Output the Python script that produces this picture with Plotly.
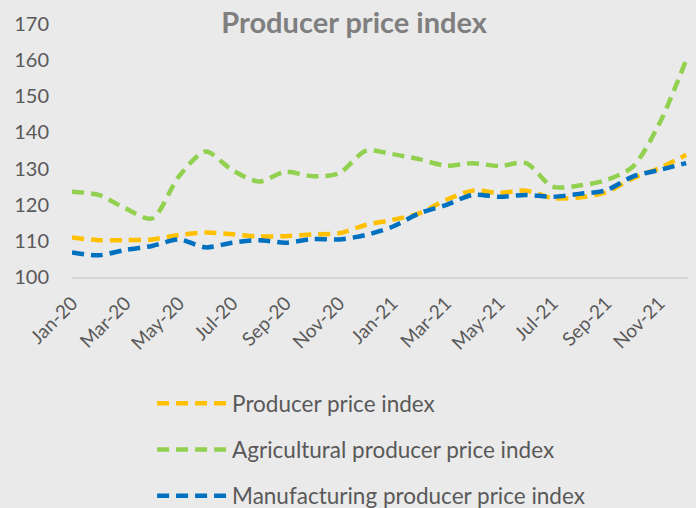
import plotly.graph_objects as go

# monthly index values, Jan-20 .. Dec-21
months = [
    "Jan-20", "Feb-20", "Mar-20", "Apr-20", "May-20", "Jun-20",
    "Jul-20", "Aug-20", "Sep-20", "Oct-20", "Nov-20", "Dec-20",
    "Jan-21", "Feb-21", "Mar-21", "Apr-21", "May-21", "Jun-21",
    "Jul-21", "Aug-21", "Sep-21", "Oct-21", "Nov-21", "Dec-21",
]
ppi = [
    110.9, 110.2, 110.2, 110.4, 111.6, 112.3, 111.8, 111.2, 111.3, 111.8, 112.1, 114.4,
    115.8, 117.6, 121.3, 123.9, 123.3, 123.9, 121.8, 122.0, 123.4, 127.3, 130.1, 133.8,
]
agri_ppi = [
    123.6, 122.7, 119.0, 116.2, 127.8, 134.7, 129.6, 126.4, 129.1, 127.9, 128.7, 134.9,
    134.0, 132.6, 130.8, 131.5, 130.7, 131.5, 125.0, 125.3, 126.8, 130.5, 142.5, 160.0,
]
manuf_ppi = [
    106.8, 106.0, 107.5, 108.6, 110.4, 108.2, 109.5, 110.2, 109.5, 110.5, 110.4, 111.6,
    113.9, 117.6, 119.9, 122.7, 122.2, 122.7, 122.2, 123.0, 124.0, 127.8, 129.6, 131.5,
]

series = [
    ("Producer price index", ppi, "#FFC000"),
    ("Agricultural producer price index", agri_ppi, "#92D050"),
    ("Manufacturing producer price index", manuf_ppi, "#0070C0"),
]

FONT = "Lato, Calibri, sans-serif"

fig = go.Figure()
for name, vals, color in series:
    fig.add_trace(go.Scatter(
        x=months, y=vals, name=name, mode="lines",
        legendgroup=name,
        line=dict(color=color, width=4.5, dash="12px,7px", shape="spline", smoothing=0.8),
    ))

fig.update_layout(
    width=696,
    height=508,
    paper_bgcolor="#EAEAEA",
    plot_bgcolor="#EAEAEA",
    margin=dict(l=72, r=8, t=24, b=231),
    font=dict(family=FONT, size=20, color="#595959"),
    title=dict(
        text="<b>Producer price index</b>",
        font=dict(family=FONT, size=29, color="#7F7F7F"),
        x=0.458, xref="paper", xanchor="center",
        y=0.955, yref="container", yanchor="middle",
    ),
    showlegend=True,
    legend=dict(
        orientation="v",
        x=0.13, xanchor="left",
        xref="paper",
        y=1 - 382 / 508, yanchor="top",
        yref="container",
        bgcolor="rgba(0,0,0,0)",
        font=dict(size=22.5, color="#595959"),
        tracegroupgap=14,
        itemwidth=70,
    ),
)

fig.update_xaxes(
    type="category",
    range=[0, 23.07],
    tickvals=months[::2],
    tickangle=-45,
    tickfont=dict(size=19),
    ticklabelstandoff=6,
    showgrid=False,
    showline=True,
    linecolor="#D4D4D4",
    linewidth=1.5,
    ticks="",
    zeroline=False,
)
fig.update_yaxes(
    range=[100, 170],
    dtick=10,
    showgrid=False,
    showline=False,
    zeroline=False,
    ticks="",
    ticklabelstandoff=22,
)

fig.write_html(
    "out.html",
    config={"displayModeBar": False},
    post_script="document.body.style.margin='0';",
)
